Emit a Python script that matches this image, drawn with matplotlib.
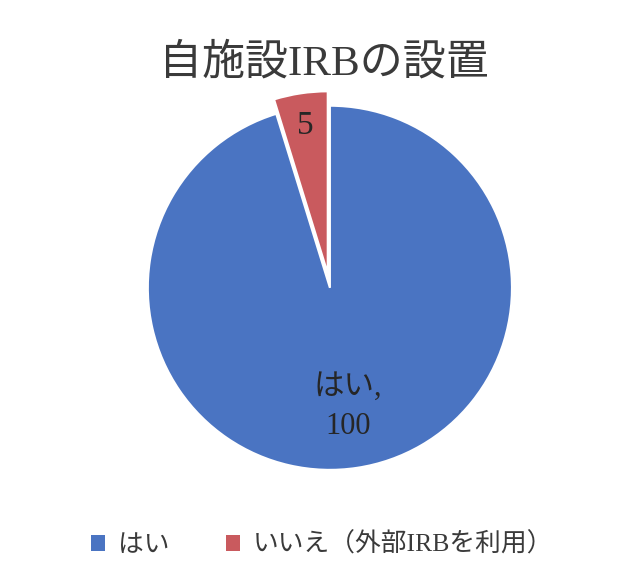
import numpy as np
import matplotlib
matplotlib.use("Agg")
import matplotlib.pyplot as plt
from matplotlib.patches import Patch

plt.rcParams['font.family'] = ['Liberation Serif', 'Noto Sans CJK JP', 'DejaVu Sans']

title = "自施設IRBの設置"
categories = ["はい", "いいえ（外部IRBを利用）"]
values = [100, 5]
slice_labels = ["はい,\n100", "5"]
colors = ["#4a74c2", "#c95a5e"]

fig = plt.figure(figsize=(6.26, 5.82), dpi=100)
ax = fig.add_axes([0.178, 0.130, 0.698, 0.751])

wedges, _ = ax.pie(values, colors=colors, startangle=90, counterclock=False,
                   explode=[0, 0.08], radius=1.0,
                   wedgeprops=dict(edgecolor="white", linewidth=1.5))
ax.set_xlim(-1.2, 1.2)
ax.set_ylim(-1.2, 1.2)
ax.set_aspect("equal")
ax.axis("off")

# label placement (distance from slice centre) and size
dists = [0.66, 0.82]
sizes = [22, 24]
for w, lab, d, fs in zip(wedges, slice_labels, dists, sizes):
    ang = np.deg2rad((w.theta1 + w.theta2) / 2)
    cx, cy = w.center
    ax.text(cx + d * np.cos(ang), cy + d * np.sin(ang), lab,
            ha="center", va="center", fontsize=fs, color="#262626",
            linespacing=1.45)

fig.text(0.517, 0.890, title, ha="center", va="center", fontsize=31, color="#3a3a3a")

handles = [Patch(facecolor=c, edgecolor="none") for c in colors]
fig.legend(handles, categories, loc="center", bbox_to_anchor=(0.515, 0.064),
           ncol=2, frameon=False, fontsize=18.5, handlelength=0.55, handleheight=0.55,
           handletextpad=0.5, columnspacing=2.2, labelcolor="#3a3a3a")

fig.savefig("out.png", dpi=100, facecolor="white")
